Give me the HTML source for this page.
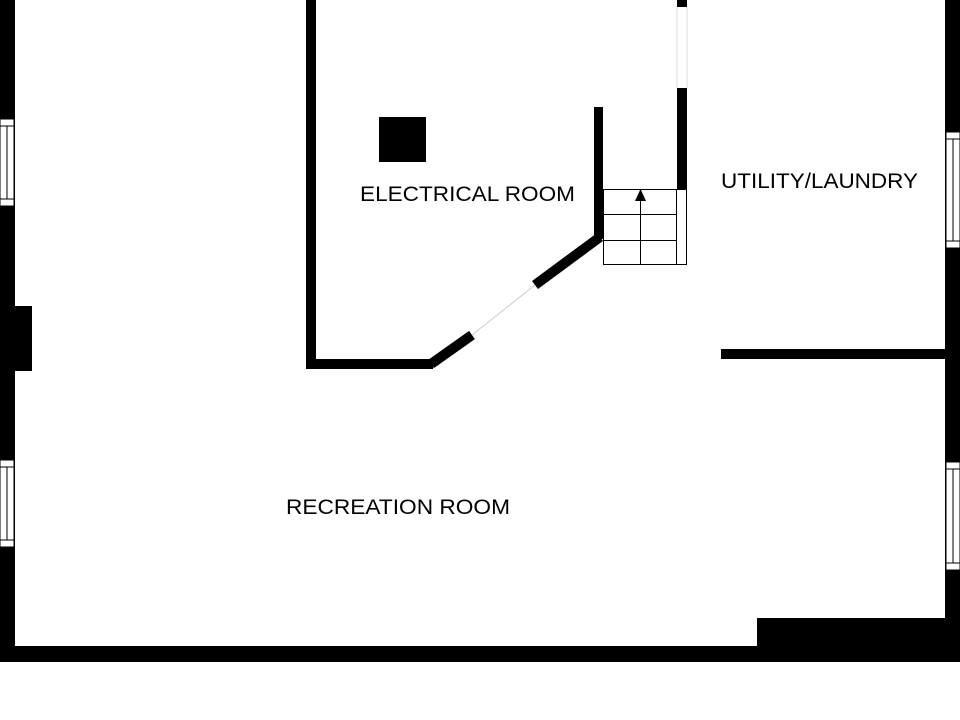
<!DOCTYPE html>
<html><head><style>
html,body{margin:0;padding:0;background:#fff;}
svg{display:block;}
text{font-family:"Liberation Sans",sans-serif;font-size:21px;fill:#000;}
</style></head><body>
<svg width="960" height="720" viewBox="0 0 960 720" xmlns="http://www.w3.org/2000/svg">
<rect width="960" height="720" fill="#fff"/>
<rect x="0" y="0" width="15" height="662" fill="#000"/>
<rect x="945" y="0" width="15" height="662" fill="#000"/>
<rect x="0" y="646" width="960" height="16" fill="#000"/>
<rect x="757" y="618" width="190" height="30" fill="#000"/>
<rect x="15" y="306" width="17" height="65" fill="#000"/>
<g fill="#fff" stroke="#000" stroke-width="1">
<rect x="0" y="119" width="14" height="87"/>
<line x1="0" y1="126" x2="14" y2="126"/><line x1="0" y1="199" x2="14" y2="199"/>
<line x1="7" y1="126" x2="7" y2="199"/>
<rect x="0" y="460" width="14" height="87"/>
<line x1="0" y1="467" x2="14" y2="467"/><line x1="0" y1="540" x2="14" y2="540"/>
<line x1="7" y1="467" x2="7" y2="540"/>
<rect x="946" y="132" width="14" height="116"/>
<line x1="946" y1="139" x2="960" y2="139"/><line x1="946" y1="241" x2="960" y2="241"/>
<line x1="953" y1="139" x2="953" y2="241"/>
<rect x="946" y="462" width="14" height="108"/>
<line x1="946" y1="469" x2="960" y2="469"/><line x1="946" y1="563" x2="960" y2="563"/>
<line x1="953" y1="469" x2="953" y2="563"/>
</g>
<rect x="306" y="0" width="10" height="369" fill="#000"/>
<rect x="306" y="359" width="127" height="10" fill="#000"/>
<line x1="431" y1="364" x2="472" y2="335" stroke="#000" stroke-width="10"/>
<line x1="472" y1="335" x2="535" y2="285" stroke="#ccc" stroke-width="1"/>
<line x1="535" y1="285" x2="600" y2="237" stroke="#000" stroke-width="10"/>
<rect x="594" y="107" width="9" height="132" fill="#000"/>
<rect x="379" y="117" width="47" height="45" fill="#000"/>
<rect x="677" y="0" width="10" height="7" fill="#000"/>
<line x1="677" y1="7" x2="677" y2="88" stroke="#ddd" stroke-width="1"/>
<line x1="687" y1="7" x2="687" y2="88" stroke="#ddd" stroke-width="1"/>
<rect x="677" y="88" width="10" height="101" fill="#000"/>
<g fill="none" stroke="#000" stroke-width="1">
<rect x="603.5" y="189.5" width="83" height="75"/>
<line x1="603" y1="214.5" x2="677" y2="214.5"/>
<line x1="603" y1="240.5" x2="677" y2="240.5"/>
<line x1="676.5" y1="189" x2="676.5" y2="265"/>
<line x1="640.5" y1="200" x2="640.5" y2="265"/>
</g>
<polygon points="640.5,189 635,201 646,201" fill="#000"/>
<rect x="721" y="349" width="226" height="10" fill="#000"/>
<text x="360" y="201" textLength="215" lengthAdjust="spacingAndGlyphs">ELECTRICAL ROOM</text>
<text x="721" y="188" textLength="197" lengthAdjust="spacingAndGlyphs">UTILITY/LAUNDRY</text>
<text x="286" y="514" textLength="224" lengthAdjust="spacingAndGlyphs">RECREATION ROOM</text>
</svg>
</body></html>
